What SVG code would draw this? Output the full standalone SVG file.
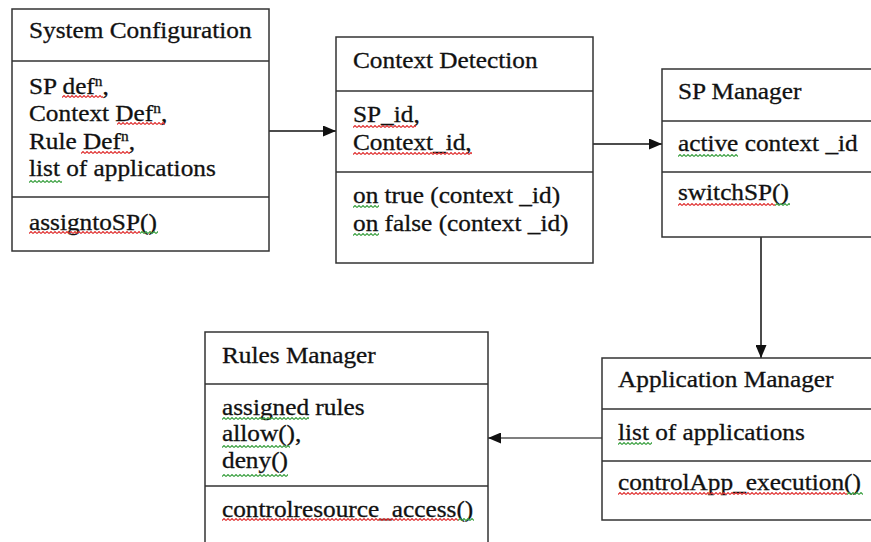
<svg xmlns="http://www.w3.org/2000/svg" width="871" height="542" viewBox="0 0 871 542">
  <style>
    .box { fill: #fff; stroke: #333; stroke-width: 1.5; }
    .div { stroke: #333; stroke-width: 1.5; fill: none; }
    .t { font-family: "Liberation Serif", "Times New Roman", serif; font-size: 23px; fill: #111; stroke: #111; stroke-width: 0.3; }
    .conn { stroke: #111; stroke-width: 1.5; fill: none; }
    .gray { stroke: #7f7f7f; stroke-width: 2; }
  </style>
  <defs>
    <marker id="arrow" markerUnits="userSpaceOnUse" markerWidth="13" markerHeight="11" refX="13" refY="5.5" orient="auto">
      <path d="M0,0 L13,5.5 L0,11 z" fill="#111"/>
    </marker>
    <!-- spell-check style wavy underlines -->
    <pattern id="sqR" patternUnits="userSpaceOnUse" width="4" height="3">
      <path d="M0,2.5 L2,0.5 L4,2.5" stroke="#e03030" stroke-width="1.1" fill="none"/>
    </pattern>
    <pattern id="sqG" patternUnits="userSpaceOnUse" width="4" height="3">
      <path d="M0,2.5 L2,0.5 L4,2.5" stroke="#3aa040" stroke-width="1.1" fill="none"/>
    </pattern>
  </defs>

  <rect width="871" height="542" fill="#fff"/>

  <g id="connectors">
    <path class="conn" d="M269,131 H336" marker-end="url(#arrow)"/>
    <path class="conn" d="M593,144 H662" marker-end="url(#arrow)"/>
    <path class="conn" d="M761,237 V358" marker-end="url(#arrow)"/>
    <path class="conn gray" d="M602,438 H488" marker-end="url(#arrow)"/>
  </g>

  <g id="system-configuration">
    <rect class="box" x="12" y="9" width="257" height="242"/>
    <path class="div" d="M12,61 H269 M12,197 H269"/>
    <text class="t" transform="translate(29,38) scale(1.1 1)">System Configuration</text>
    <text class="t" transform="translate(29,94) scale(1.1 1)">SP def<tspan font-size="14" dy="-8">n</tspan><tspan dy="8">,</tspan></text>
    <text class="t" transform="translate(29,121) scale(1.1 1)">Context Def<tspan font-size="14" dy="-8">n</tspan><tspan dy="8">,</tspan></text>
    <text class="t" transform="translate(29,149) scale(1.1 1)">Rule Def<tspan font-size="14" dy="-8">n</tspan><tspan dy="8">,</tspan></text>
    <text class="t" transform="translate(29,176) scale(1.1 1)">list of applications</text>
    <text class="t" transform="translate(29,230) scale(1.1 1)">assigntoSP()</text>
    <rect transform="translate(62,95)" width="41" height="3" fill="url(#sqR)"/>
    <rect transform="translate(117,122)" width="48" height="3" fill="url(#sqR)"/>
    <rect transform="translate(81,151)" width="49" height="3" fill="url(#sqR)"/>
    <rect transform="translate(29,180)" width="33" height="3" fill="url(#sqG)"/>
    <rect transform="translate(29,231)" width="111" height="3" fill="url(#sqR)"/>
    <rect transform="translate(140,231)" width="18" height="3" fill="url(#sqG)"/>
  </g>

  <g id="context-detection">
    <rect class="box" x="336" y="37" width="257" height="226"/>
    <path class="div" d="M336,91 H593" stroke-width="2.5"/>
    <path class="div" d="M336,172 H593"/>
    <text class="t" transform="translate(353,68) scale(1.1 1)">Context Detection</text>
    <text class="t" transform="translate(353,122) scale(1.1 1)">SP_id,</text>
    <text class="t" transform="translate(353,150) scale(1.1 1)">Context_id,</text>
    <text class="t" transform="translate(353,203) scale(1.1 1)">on true (context _id)</text>
    <text class="t" transform="translate(353,231) scale(1.1 1)">on false (context _id)</text>
    <rect transform="translate(353,125)" width="63" height="3" fill="url(#sqR)"/>
    <rect transform="translate(353,152)" width="119" height="3" fill="url(#sqR)"/>
    <rect transform="translate(353,205)" width="26" height="3" fill="url(#sqG)"/>
    <rect transform="translate(353,233)" width="26" height="3" fill="url(#sqG)"/>
  </g>

  <g id="sp-manager">
    <rect class="box" x="662" y="69" width="230" height="168"/>
    <path class="div" d="M662,121 H892 M662,172 H892"/>
    <text class="t" transform="translate(678,99) scale(1.1 1)">SP Manager</text>
    <text class="t" transform="translate(678,151) scale(1.1 1)">active context _id</text>
    <text class="t" transform="translate(678,200) scale(1.1 1)">switchSP()</text>
    <rect transform="translate(678,154)" width="60" height="3" fill="url(#sqG)"/>
    <rect transform="translate(678,203)" width="97" height="3" fill="url(#sqR)"/>
    <rect transform="translate(775,203)" width="15" height="3" fill="url(#sqG)"/>
  </g>

  <g id="rules-manager">
    <rect class="box" x="205" y="332" width="283" height="230"/>
    <path class="div" d="M205,384 H488 M205,486 H488"/>
    <text class="t" transform="translate(222,363) scale(1.1 1)">Rules Manager</text>
    <text class="t" transform="translate(222,415) scale(1.1 1)">assigned rules</text>
    <text class="t" transform="translate(222,441) scale(1.1 1)">allow(),</text>
    <text class="t" transform="translate(222,468) scale(1.1 1)">deny()</text>
    <text class="t" transform="translate(222,517) scale(1.1 1)">controlresource_access()</text>
    <rect transform="translate(222,417)" width="87" height="3" fill="url(#sqG)"/>
    <rect transform="translate(222,445)" width="68" height="3" fill="url(#sqG)"/>
    <rect transform="translate(222,474)" width="66" height="3" fill="url(#sqG)"/>
    <rect transform="translate(222,518)" width="236" height="3" fill="url(#sqR)"/>
    <rect transform="translate(458,518)" width="16" height="3" fill="url(#sqG)"/>
  </g>

  <g id="application-manager">
    <rect class="box" x="602" y="358" width="290" height="162"/>
    <path class="div" d="M602,409 H892 M602,461 H892"/>
    <text class="t" transform="translate(618,387) scale(1.1 1)">Application Manager</text>
    <text class="t" transform="translate(618,440) scale(1.1 1)">list of applications</text>
    <text class="t" transform="translate(618,490) scale(1.1 1)">controlApp_execution()</text>
    <rect transform="translate(618,442)" width="34" height="3" fill="url(#sqG)"/>
    <rect transform="translate(618,492)" width="229" height="3" fill="url(#sqR)"/>
    <rect transform="translate(847,492)" width="16" height="3" fill="url(#sqG)"/>
  </g>
</svg>
